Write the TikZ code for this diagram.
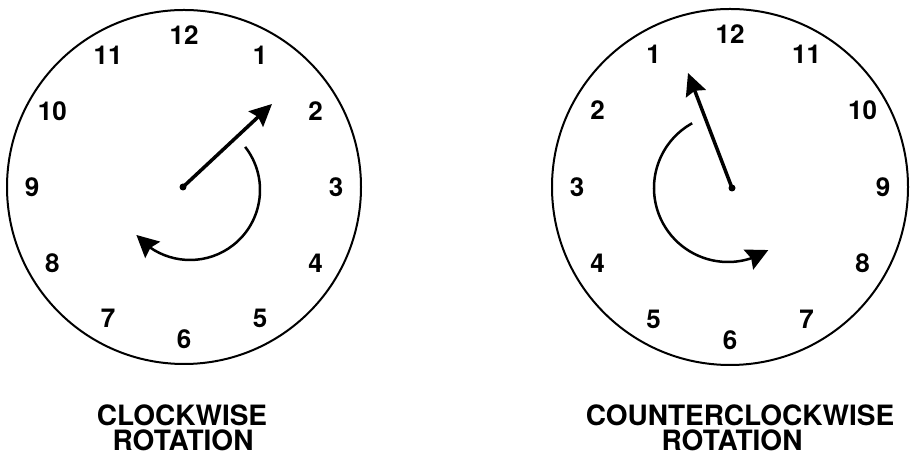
\documentclass[tikz,border=0pt]{standalone}
\usepackage{fontspec}
\setmainfont{TeX Gyre Heros}
\usetikzlibrary{arrows.meta,bending,calc}
\begin{document}
\begin{tikzpicture}[x=1pt,y=1pt,
  face/.style={draw,line width=2pt},
  num/.style={font=\fontsize{26}{26}\selectfont\bfseries,inner sep=0pt},
  hand/.style={line width=3.5pt,-{Stealth[length=22pt,width=21pt,inset=3pt]}},
  turn/.style={line width=2.5pt,-{Stealth[length=22pt,width=22pt,inset=3pt]}},
  caption/.style={font=\fontsize{28}{28}\selectfont\bfseries,inner sep=0pt}]
\useasboundingbox (0,0) rectangle (910,462);
\fill[white] (0,0) rectangle (910,462);
% left clock (clockwise)
\coordinate (lc) at (184,275);
\draw[face] (lc) circle[radius=177];
\foreach \h in {1,...,12}{
  \node[num] (ln\h) at ($(lc)+({90-30*\h}:152)$) {\h};
}
\coordinate (lhand) at (183,275);
\coordinate (ltip) at (272,358);
\fill (lhand) circle[radius=3.5];
\draw[hand] (lhand) -- (ltip);
\coordinate (lac) at (190,272);
\draw[turn] ($(lac)+(38:70)$) arc[start angle=38,end angle=-140,radius=70];
\node[caption] (lcap1) at (182,47) {CLOCKWISE};
\node[caption] (lcap2) at (183,22) {ROTATION};
% right clock (counterclockwise)
\coordinate (rc) at (730,275);
\draw[face] (rc) circle[radius=178];
\foreach \h in {1,...,12}{
  \node[num] (rn\h) at ($(rc)+({90+30*\h}:153)$) {\h};
}
\coordinate (rhand) at (732,274);
\coordinate (rtip) at (688,389);
\fill (rhand) circle[radius=3.5];
\draw[hand] (rhand) -- (rtip);
\coordinate (rac) at (728,274);
\draw[turn] ($(rac)+(119:74)$) arc[start angle=119,end angle=303,radius=74];
\node[caption] (rcap1) at (740,47) {COUNTERCLOCKWISE};
\node[caption] (rcap2) at (732,22) {ROTATION};
\end{tikzpicture}
\end{document}
